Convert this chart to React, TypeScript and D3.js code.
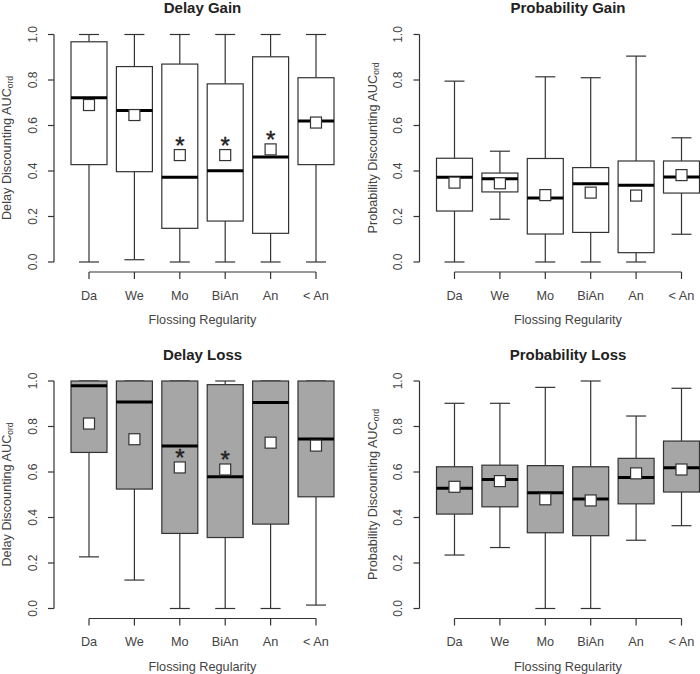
import React from "react";
import * as d3 from "d3";

const categories = ["Da", "We", "Mo", "BiAn", "An", "< An"];
const yTicks = [0, 0.2, 0.4, 0.6, 0.8, 1.0];
const xTitle = "Flossing Regularity";

// Delay Gain
const dgMin = [0, 0.01, 0, 0, 0, 0];
const dgQ1 = [0.428, 0.397, 0.148, 0.18, 0.126, 0.428];
const dgMed = [0.722, 0.666, 0.372, 0.401, 0.461, 0.62];
const dgQ3 = [0.968, 0.859, 0.87, 0.783, 0.902, 0.81];
const dgMax = [1, 1, 1, 1, 1, 1];
const dgMean = [0.69, 0.646, 0.47, 0.47, 0.495, 0.613];
const dgStar = [false, false, true, true, true, false];

// Probability Gain
const pgMin = [0, 0.188, 0, 0, 0, 0.122];
const pgQ1 = [0.224, 0.308, 0.123, 0.13, 0.041, 0.303];
const pgMed = [0.372, 0.366, 0.281, 0.344, 0.337, 0.374];
const pgQ3 = [0.456, 0.391, 0.455, 0.415, 0.444, 0.444];
const pgMax = [0.795, 0.487, 0.814, 0.81, 0.905, 0.546];
const pgMean = [0.349, 0.346, 0.294, 0.305, 0.292, 0.382];
const pgStar = [false, false, false, false, false, false];

// Delay Loss
const dlMin = [0.227, 0.125, 0, 0, 0, 0.015];
const dlQ1 = [0.686, 0.525, 0.33, 0.312, 0.371, 0.491];
const dlMed = [0.979, 0.908, 0.714, 0.579, 0.906, 0.745];
const dlQ3 = [1, 1, 1, 0.984, 1, 1];
const dlMax = [1, 1, 1, 1, 1, 1];
const dlMean = [0.813, 0.744, 0.62, 0.611, 0.729, 0.716];
const dlStar = [false, false, true, true, false, false];

// Probability Loss
const plMin = [0.235, 0.268, 0, 0, 0.3, 0.364];
const plQ1 = [0.415, 0.447, 0.333, 0.32, 0.46, 0.512];
const plMed = [0.529, 0.567, 0.509, 0.481, 0.576, 0.619];
const plQ3 = [0.623, 0.63, 0.628, 0.623, 0.66, 0.736];
const plMax = [0.902, 0.902, 0.972, 1.0, 0.846, 0.968];
const plMean = [0.535, 0.56, 0.48, 0.475, 0.594, 0.611];
const plStar = [false, false, false, false, false, false];

const FONT = "'Liberation Sans', Arial, sans-serif";
const LINE = "#333";

type PanelProps = {
  ox: number;
  oy: number;
  title: string;
  yName: string;
  fill: string;
  mins: number[];
  q1s: number[];
  meds: number[];
  q3s: number[];
  maxs: number[];
  means: number[];
  stars: boolean[];
};

function Panel(p: PanelProps) {
  const x = d3.scalePoint<string>().domain(categories).range([89, 316]);
  const y = d3.scaleLinear().domain([0, 1]).range([262, 34.5]);
  const bw = 18;
  const cw = 10;
  const sq = 11;
  const axisY = 272;
  const axisX = 54;
  return (
    <g transform={`translate(${p.ox},${p.oy})`} fontFamily={FONT}>
      <text x={202.5} y={13} textAnchor="middle" fontWeight="bold" fontSize={15} fill="#222">
        {p.title}
      </text>
      {/* y axis */}
      <line x1={axisX} x2={axisX} y1={y(0)} y2={y(1)} stroke={LINE} strokeWidth={1.2} />
      {yTicks.map((t) => (
        <g key={t}>
          <line x1={axisX - 6} x2={axisX} y1={y(t)} y2={y(t)} stroke={LINE} strokeWidth={1.2} />
          <text
            transform={`translate(${32.5},${y(t)}) rotate(-90)`}
            textAnchor="middle"
            dy="0.35em"
            fontSize={12}
            fill="#444"
          >
            {t.toFixed(1)}
          </text>
        </g>
      ))}
      <text transform={`translate(7,148) rotate(-90)`} textAnchor="middle" dy="0.35em" fontSize={12.7} fill="#444">
        {p.yName + " AUC"}
        <tspan fontSize={8.5} dy="2">ord</tspan>
      </text>
      {/* x axis */}
      <line x1={x(categories[0])} x2={x(categories[categories.length - 1])} y1={axisY} y2={axisY} stroke={LINE} strokeWidth={1.2} />
      {categories.map((c) => (
        <g key={c}>
          <line x1={x(c)} x2={x(c)} y1={axisY} y2={axisY + 7} stroke={LINE} strokeWidth={1.2} />
          <text x={x(c)} y={299.5} textAnchor="middle" fontSize={12.7} fill="#444">
            {c}
          </text>
        </g>
      ))}
      <text x={202.5} y={324} textAnchor="middle" fontSize={12.7} fill="#444">
        {xTitle}
      </text>
      {/* boxes */}
      {categories.map((c, i) => {
        const cx = x(c) as number;
        return (
          <g key={c}>
            <line x1={cx} x2={cx} y1={y(p.q3s[i])} y2={y(p.maxs[i])} stroke={LINE} strokeWidth={1.2} />
            <line x1={cx} x2={cx} y1={y(p.q1s[i])} y2={y(p.mins[i])} stroke={LINE} strokeWidth={1.2} />
            <line x1={cx - cw} x2={cx + cw} y1={y(p.maxs[i])} y2={y(p.maxs[i])} stroke={LINE} strokeWidth={1.2} />
            <line x1={cx - cw} x2={cx + cw} y1={y(p.mins[i])} y2={y(p.mins[i])} stroke={LINE} strokeWidth={1.2} />
            <rect
              x={cx - bw}
              y={y(p.q3s[i])}
              width={2 * bw}
              height={y(p.q1s[i]) - y(p.q3s[i])}
              fill={p.fill}
              stroke={LINE}
              strokeWidth={1.2}
            />
            <line x1={cx - bw} x2={cx + bw} y1={y(p.meds[i])} y2={y(p.meds[i])} stroke="#000" strokeWidth={3} />
            <rect
              x={cx - sq / 2}
              y={y(p.means[i]) - sq / 2}
              width={sq}
              height={sq}
              fill="#fff"
              stroke={LINE}
              strokeWidth={1.2}
            />
            {p.stars[i] && (
              <text
                x={cx}
                y={y(p.means[i]) - 1.5}
                textAnchor="middle"
                fontSize={24}
                fill="#222"
                stroke="#222"
                strokeWidth={0.4}
              >
                *
              </text>
            )}
          </g>
        );
      })}
    </g>
  );
}

export default function App() {
  const colX = 365.5;
  const rowY = 346.5;
  return (
    <svg
      width={700}
      height={674}
      viewBox="0 0 700 674"
      style={{ position: "absolute", left: 0, top: 0, background: "#fff" }}
    >
      <rect width={700} height={674} fill="#fff" />
      <Panel ox={0} oy={0} title="Delay Gain" yName="Delay Discounting" fill="#fff"
        mins={dgMin} q1s={dgQ1} meds={dgMed} q3s={dgQ3} maxs={dgMax} means={dgMean} stars={dgStar} />
      <Panel ox={colX} oy={0} title="Probability Gain" yName="Probability Discounting" fill="#fff"
        mins={pgMin} q1s={pgQ1} meds={pgMed} q3s={pgQ3} maxs={pgMax} means={pgMean} stars={pgStar} />
      <Panel ox={0} oy={rowY} title="Delay Loss" yName="Delay Discounting" fill="#a6a6a6"
        mins={dlMin} q1s={dlQ1} meds={dlMed} q3s={dlQ3} maxs={dlMax} means={dlMean} stars={dlStar} />
      <Panel ox={colX} oy={rowY} title="Probability Loss" yName="Probability Discounting" fill="#a6a6a6"
        mins={plMin} q1s={plQ1} meds={plMed} q3s={plQ3} maxs={plMax} means={plMean} stars={plStar} />
    </svg>
  );
}
